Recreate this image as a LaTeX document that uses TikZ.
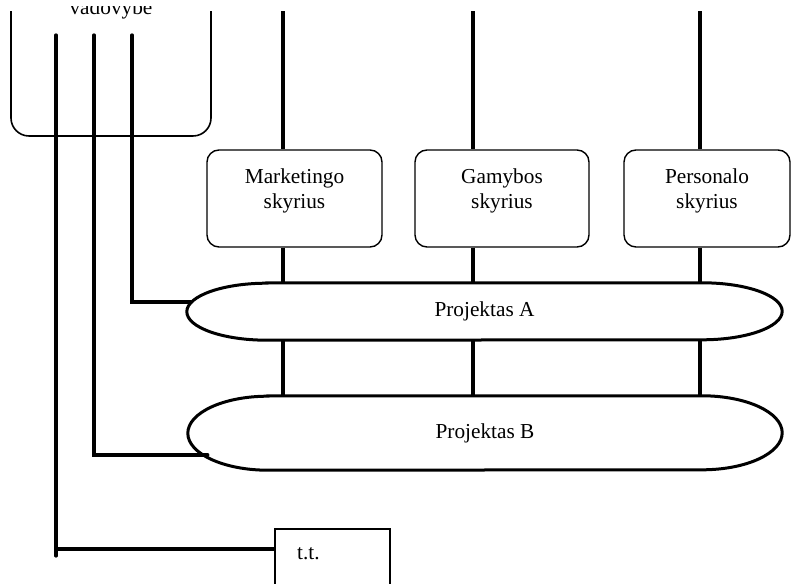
\documentclass[tikz,border=0pt]{standalone}
\usepackage{fontspec}
\setmainfont{Liberation Serif}
\begin{document}
\begin{tikzpicture}[x=1pt,y=1pt,
  conn/.style={line width=3.2pt},
  deptbox/.style={draw, line width=1.4pt, rounded corners=12pt, minimum height=97pt, inner sep=0pt},
  depttext/.style={align=center, inner sep=0pt, font=\fontsize{21.3}{25}\selectfont},
  projbox/.style={inner sep=0pt, font=\fontsize{21.3}{25}\selectfont},
  projline/.style={line width=3pt},
  topbox/.style={draw, line width=1.6pt, rounded corners=18pt, minimum width=200pt, minimum height=203pt, inner sep=0pt},
  ttbox/.style={draw, line width=1.1pt, minimum width=115pt, minimum height=74pt, inner sep=0pt},
  plain/.style={inner sep=0pt, font=\fontsize{21.3}{25}\selectfont}
]
\useasboundingbox (0,0) rectangle (791,583);
% label of the management box, clipped at the top
\begin{scope}
\clip (0,0) rectangle (791,576);
\node[plain, anchor=base] (mgmtlabel) at (111,568) {vadovybė};
\end{scope}
\begin{scope}
\clip (0,-30) rectangle (791,571);
% management box
\node[topbox] (mgmt) at (111,548.5) {};
% departments
\node[deptbox, minimum width=175pt] (m) at (294.5,384.5) {};
\node[deptbox, minimum width=174pt] (g) at (502,384.5) {};
\node[deptbox, minimum width=166pt] (p) at (707,384.5) {};
\node[depttext] (mtext) at ([yshift=-41.5pt]m.north) {Marketingo\\skyrius};
\node[depttext] (gtext) at ([yshift=-41.5pt]g.north) {Gamybos\\skyrius};
\node[depttext] (ptext) at ([yshift=-41.5pt]p.north) {Personalo\\skyrius};
% projects
\node[projbox, minimum width=595pt, minimum height=57pt] (pA) at (484.5,271.5) {Projektas A};
\node[projbox, minimum width=594pt, minimum height=74pt] (pB) at (485,150) {Projektas B};
\draw[projline] ([xshift=80pt]pA.north west) -- ([xshift=-80pt]pA.north east)
  arc[start angle=90, end angle=-90, x radius=80pt, y radius=28.5pt]
  -- ([xshift=80pt]pA.south west)
  arc[start angle=270, end angle=90, x radius=80pt, y radius=28.5pt] -- cycle;
\draw[projline] ([xshift=80pt]pB.north west) -- ([xshift=-80pt]pB.north east)
  arc[start angle=90, end angle=-90, x radius=80pt, y radius=37pt]
  -- ([xshift=80pt]pB.south west)
  arc[start angle=270, end angle=90, x radius=80pt, y radius=37pt] -- cycle;
% t.t.
\node[ttbox] (tt) at (332.5,17) {};
\node[plain, anchor=base west] (ttext) at (297,24) {t.t.};
% vertical department lines
\coordinate (xm) at (283,600);
\coordinate (xg) at (473,600);
\coordinate (xp) at (700,600);
\foreach \c/\d in {xm/m, xg/g, xp/p}{
  \draw[conn] (\c) -- (\c |- \d.north);
  \draw[conn] (\c |- \d.south) -- (\c |- pA.north);
  \draw[conn] (\c |- pA.south) -- (\c |- pB.north);
}
% management lines
\coordinate (la) at (132,548);
\coordinate (lb) at (94,548);
\coordinate (lc) at (56,548);
\coordinate (ja) at ([xshift=4pt,yshift=9.5pt]pA.west);
\coordinate (jb) at ([xshift=20pt,yshift=-22pt]pB.west);
\coordinate (jt) at ([yshift=17pt]tt.west);
\coordinate (lcend) at (56,27);
\draw[conn, line cap=round] (la) |- (ja);
\draw[conn, line cap=round] (lb) |- (jb);
\draw[conn, line cap=round] (lc) -- (lcend);
\draw[conn] (lc |- jt) -- (jt);
\end{scope}
\end{tikzpicture}
\end{document}
